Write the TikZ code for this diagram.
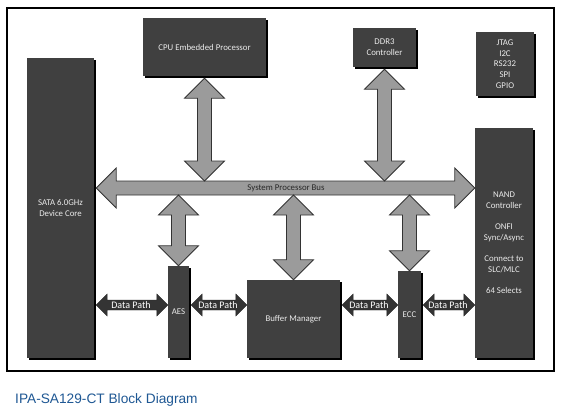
\documentclass[tikz,border=0pt]{standalone}
\usepackage{fontspec}
\setmainfont{Carlito}
\newfontfamily\titlefont{Liberation Sans}
\usetikzlibrary{calc,shadows}
\definecolor{slate}{RGB}{64,64,64}
\definecolor{busgray}{RGB}{155,155,155}
\definecolor{pathdark}{RGB}{52,52,52}
\definecolor{titleblue}{RGB}{31,88,148}
\definecolor{ink}{RGB}{40,40,40}
\tikzset{
  block/.style={fill=slate,text=white!92!black,inner sep=0pt,align=center,
    font=\fontsize{8.8}{10.7}\selectfont,
    drop shadow={shadow xshift=2pt,shadow yshift=-2pt,opacity=1,fill=black}},
  bus/.style={fill=busgray,draw=slate!80!black,line width=0.8pt,line join=miter},
  datapath/.style={fill=pathdark,draw=black!85,line width=0.4pt},
  buslabel/.style={font=\fontsize{8.8}{10.7}\selectfont,text=ink,inner sep=0pt},
  pathlabel/.style={font=\fontsize{10}{12}\selectfont,text=white,inner sep=0pt},
}
% fat double arrows: style, from, to, head half width, shaft half width
\newcommand{\hlink}[5]{\draw[#1] let \p1=(#2), \p2=(#3) in
  (\x1,\y1) -- (\x1+#4,\y1+#4) -- (\x1+#4,\y1+#5) -- (\x2-#4,\y1+#5) -- (\x2-#4,\y1+#4)
  -- (\x2,\y1) -- (\x2-#4,\y1-#4) -- (\x2-#4,\y1-#5) -- (\x1+#4,\y1-#5) -- (\x1+#4,\y1-#4) -- cycle;}
\newcommand{\vlink}[5]{\draw[#1] let \p1=(#2), \p2=(#3) in
  (\x1,\y1) -- (\x1+#4,\y1-#4) -- (\x1+#5,\y1-#4) -- (\x1+#5,\y2+#4) -- (\x1+#4,\y2+#4)
  -- (\x1,\y2) -- (\x1-#4,\y2+#4) -- (\x1-#5,\y2+#4) -- (\x1-#5,\y1-#4) -- (\x1-#4,\y1-#4) -- cycle;}

\begin{document}
\begin{tikzpicture}[x=1pt,y=-1pt]
  \fill[white] (0,0) rectangle (563,413);
  \draw[line width=2pt] (7,8) rectangle (554,371);

  \node[block,minimum width=67pt,minimum height=300pt] (sata) at (60.5,208) {SATA 6.0GHz\\Device Core};
  \node[block,minimum width=123pt,minimum height=58pt] (cpu) at (204.5,47) {CPU Embedded Processor};
  \node[block,minimum width=63pt,minimum height=39pt] (ddr) at (384.5,47.5) {DDR3\\Controller};
  \node[block,minimum width=58pt,minimum height=64pt] (jtag) at (505,64) {JTAG\\I2C\\RS232\\SPI\\GPIO};
  \node[block,minimum width=58pt,minimum height=230pt] (nand) at (504,243)
    {NAND\\Controller\\[10.7pt]ONFI\\Sync/Async\\[10.7pt]Connect to\\SLC/MLC\\[10.7pt]64 Selects};
  \node[block,minimum width=21pt,minimum height=92pt] (aes) at (178.5,312) {AES};
  \node[block,minimum width=93pt,minimum height=78pt] (bm) at (293.5,319) {Buffer Manager};
  \node[block,minimum width=23pt,minimum height=87pt] (ecc) at (409.5,314.5) {ECC};

  \coordinate (busaxis) at (286,188);
  \coordinate (bustop) at (286,181);
  \coordinate (busbot) at (286,195);
  \coordinate (pathaxis) at (286,305);

  \hlink{bus}{$(sata.east |- busaxis)+(2,0)$}{nand.west |- busaxis}{20pt}{7pt}
  \vlink{bus}{$(cpu.south)+(0,2)$}{cpu.south |- bustop}{20pt}{7pt}
  \vlink{bus}{$(ddr.south)+(0,2)$}{ddr.south |- bustop}{20pt}{7pt}
  \vlink{bus}{aes.north |- busbot}{aes.north}{20pt}{7pt}
  \vlink{bus}{bm.north |- busbot}{bm.north}{20pt}{7pt}
  \vlink{bus}{ecc.north |- busbot}{ecc.north}{20pt}{7pt}
  \node[buslabel] (sysbus) at (busaxis) {System Processor Bus};

  \hlink{datapath}{$(sata.east |- pathaxis)+(2,0)$}{aes.west |- pathaxis}{11pt}{5pt}
  \hlink{datapath}{$(aes.east |- pathaxis)+(2,0)$}{bm.west |- pathaxis}{11pt}{5pt}
  \hlink{datapath}{$(bm.east |- pathaxis)+(2,0)$}{ecc.west |- pathaxis}{11pt}{5pt}
  \hlink{datapath}{$(ecc.east |- pathaxis)+(2,0)$}{nand.west |- pathaxis}{11pt}{5pt}
  \node[pathlabel] (dp1) at ($(sata.east |- pathaxis)!0.5!(aes.west |- pathaxis)$) {Data Path};
  \node[pathlabel] (dp2) at ($(aes.east |- pathaxis)!0.5!(bm.west |- pathaxis)$) {Data Path};
  \node[pathlabel] (dp3) at ($(bm.east |- pathaxis)!0.5!(ecc.west |- pathaxis)$) {Data Path};
  \node[pathlabel] (dp4) at ($(ecc.east |- pathaxis)!0.5!(nand.west |- pathaxis)$) {Data Path};

  \node[anchor=west,inner sep=0pt,text=titleblue,font=\titlefont\fontsize{13.7}{16}\selectfont]
    (caption) at (15,400) {IPA-SA129-CT Block Diagram};
\end{tikzpicture}
\end{document}
